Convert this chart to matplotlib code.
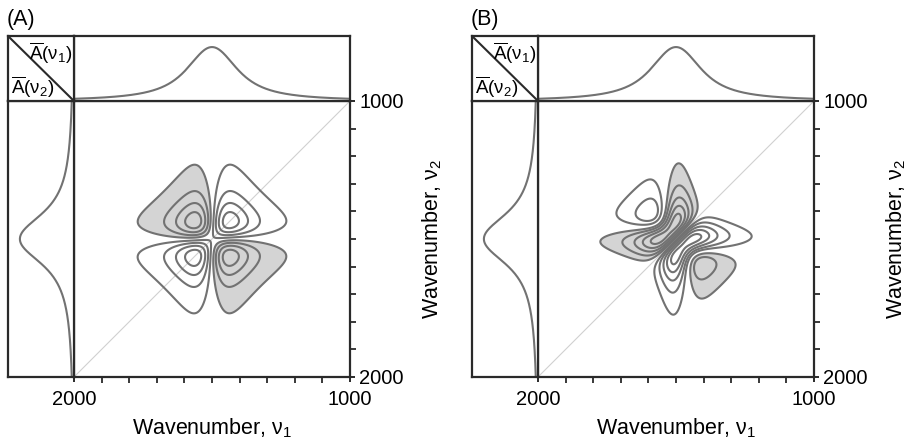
import numpy as np
import matplotlib
matplotlib.use("Agg")
import matplotlib.pyplot as plt

plt.rcParams['font.family'] = ['Liberation Sans', 'DejaVu Sans']
plt.rcParams['mathtext.fontset'] = 'custom'
plt.rcParams['mathtext.rm'] = 'Liberation Sans'
plt.rcParams['mathtext.it'] = 'Liberation Sans'

# modelo: una banda que se desplaza con la perturbacion
wavenumbers = np.arange(1000, 2001, 2.0)
band_positions = [1460, 1470, 1480, 1490, 1500, 1510, 1520, 1530, 1540]
band_hwhm = 100.0
band_height = 1.0

panel_labels = ['(A)', '(B)']
tick_values = [2000, 1000]
sync_levels = [0.135, 0.37, 0.61, 0.85]
async_levels = [0.13, 0.3, 0.5, 0.7, 0.9]

line_gray = '#727272'
fill_gray = '#d4d4d4'
frame = '#2a2a2a'


def lorentz(nu, c, w, h):
    return h / (1 + ((nu - c) / w) ** 2)


spectra = np.array([lorentz(wavenumbers, c, band_hwhm, band_height) for c in band_positions])
mean_spec = spectra.mean(axis=0)
dyn = spectra - mean_spec
m = dyn.shape[0]
sync = dyn.T @ dyn / (m - 1)
j, k = np.meshgrid(np.arange(m), np.arange(m), indexing='ij')
noda = np.where(j == k, 0.0, 1.0 / (np.pi * (k - j + (j == k))))
asyn = dyn.T @ noda @ dyn / (m - 1)

maps = [sync / np.abs(sync).max(), asyn / np.abs(asyn).max()]
levels = [sync_levels, async_levels]

fig = plt.figure(figsize=(9.17, 4.45), dpi=100)
W, H = 917.0, 445.0


def px(x0, y0, x1, y1):
    return [x0 / W, 1 - y1 / H, (x1 - x0) / W, (y1 - y0) / H]


offsets = [0, 464]
for p in range(2):
    o = offsets[p]
    ax = fig.add_axes(px(74 + o, 101, 350 + o, 377))
    ax_top = fig.add_axes(px(74 + o, 36, 350 + o, 101))
    ax_left = fig.add_axes(px(8 + o, 101, 74 + o, 377))
    ax_c = fig.add_axes(px(8 + o, 36, 74 + o, 101))

    Z = maps[p].T
    lv = np.array(levels[p])
    ax.plot([2000, 1000], [2000, 1000], color='#d0d0d0', lw=0.8, zorder=1)
    ax.contourf(wavenumbers, wavenumbers, Z, levels=[-10, -lv[0]], colors=[fill_gray], zorder=2)
    ax.contour(wavenumbers, wavenumbers, Z, levels=np.concatenate([-lv[::-1], lv]),
               colors=line_gray, linewidths=1.5, linestyles='solid', zorder=3)
    ax.set_xlim(2000, 1000)
    ax.set_ylim(2000, 1000)
    ax.yaxis.tick_right()
    ax.yaxis.set_label_position('right')
    ax.set_xticks(tick_values)
    ax.set_yticks(tick_values)
    ax.set_xticks(np.arange(1100, 2000, 100), minor=True)
    ax.set_yticks(np.arange(1100, 2000, 100), minor=True)
    ax.tick_params(which='major', direction='inout', length=7, width=1.4, color=frame, labelsize=14.5)
    ax.tick_params(axis='x', which='major', pad=6)
    ax.tick_params(axis='y', which='major', pad=3)
    ax.tick_params(which='minor', direction='out', length=4, width=1.3, color=frame)
    ax.set_xlabel('Wavenumber, $\\mathrm{\\nu}_1$', fontsize=15.5, labelpad=5)
    ax.set_ylabel('Wavenumber, $\\mathrm{\\nu}_2$', fontsize=15.5, labelpad=12)

    ax_top.plot(wavenumbers, mean_spec, color=line_gray, lw=1.5)
    ax_top.set_xlim(2000, 1000)
    ax_top.set_ylim(0, mean_spec.max() / 0.83)
    ax_left.plot(mean_spec, wavenumbers, color=line_gray, lw=1.5)
    ax_left.set_ylim(2000, 1000)
    ax_left.set_xlim(mean_spec.max() / 0.82, 0)

    ax_c.plot([0, 1], [1, 0], color=frame, lw=1.5)
    ax_c.set_xlim(0, 1)
    ax_c.set_ylim(0, 1)
    ax_c.text(0.97, 0.73, '$\\overline{\\mathrm{A}}(\\mathrm{\\nu}_1)$', ha='right', va='center', fontsize=13.5)
    ax_c.text(0.05, 0.22, '$\\overline{\\mathrm{A}}(\\mathrm{\\nu}_2)$', ha='left', va='center', fontsize=13.5)

    for a in (ax, ax_top, ax_left, ax_c):
        for s in a.spines.values():
            s.set_linewidth(1.6)
            s.set_color(frame)
    for a in (ax_top, ax_left, ax_c):
        a.set_xticks([])
        a.set_yticks([])

    fig.text((7 + o) / W, 1 - 20 / H, panel_labels[p], fontsize=15.5, ha='left', va='center')

fig.savefig('out.png', dpi=100)
